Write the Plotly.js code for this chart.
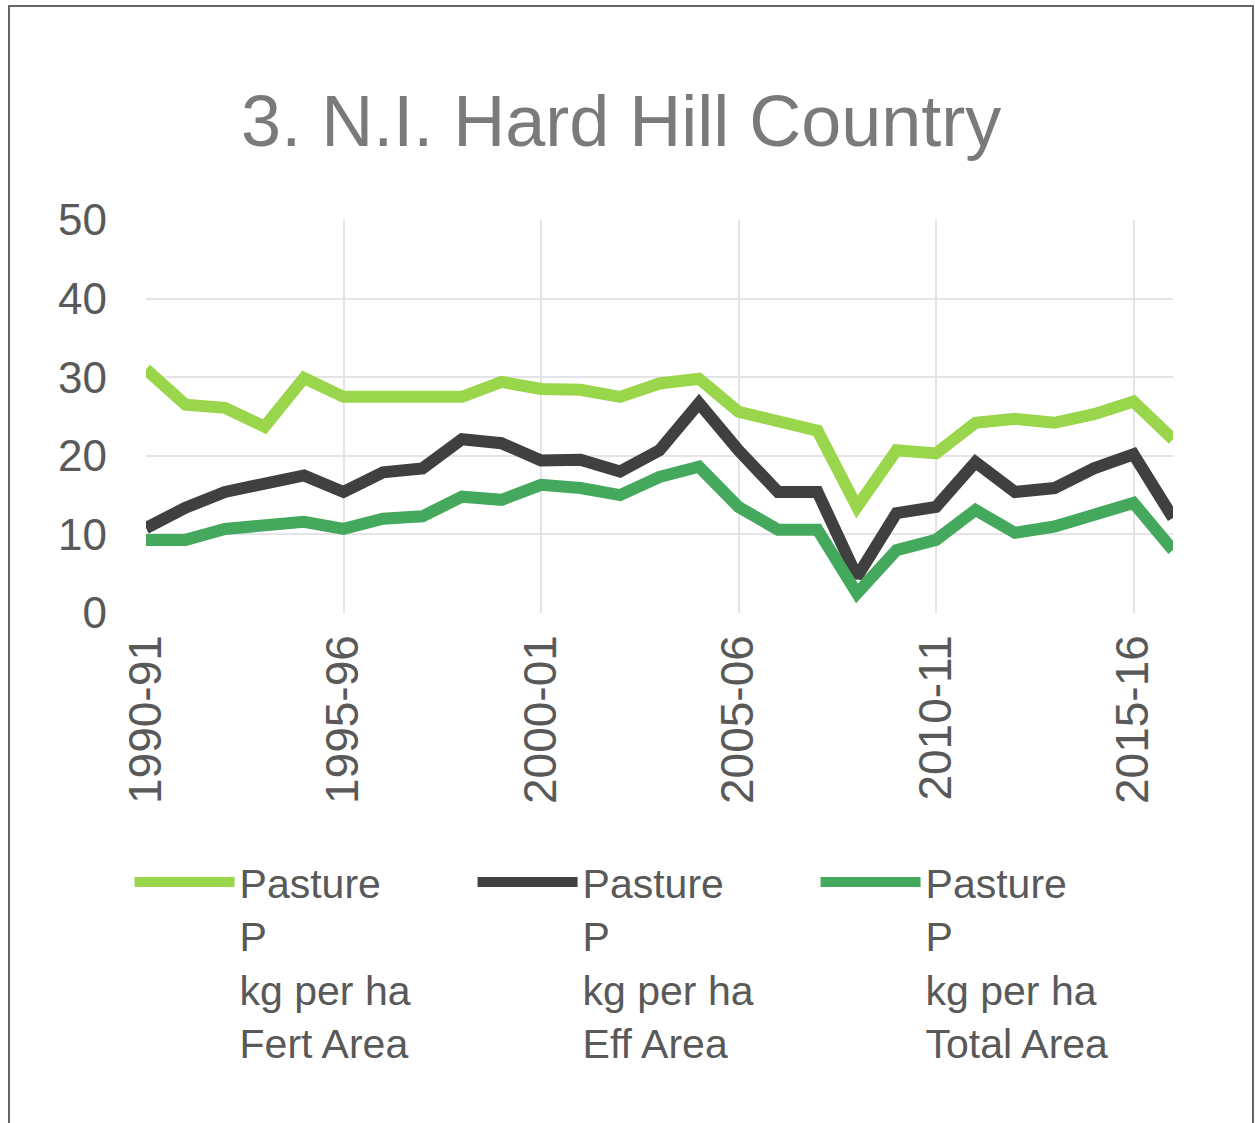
<!DOCTYPE html>
<html>
<head>
<meta charset="utf-8">
<script src="https://cdn.plot.ly/plotly-3.0.1.min.js"></script>
<style>
  body { margin: 0; background: #fff; }
  #chart { width: 1255px; height: 1123px; position: relative; }
  #frame { position: absolute; left: 8px; top: 5px; width: 1242px; height: 1130px; border: 2px solid #666; pointer-events: none; }
</style>
</head>
<body>
<div id="chart"></div>
<div id="frame"></div>
<script>
// years on the category axis
var years = ['1990-91', '1991-92', '1992-93', '1993-94', '1994-95', '1995-96', '1996-97',
  '1997-98', '1998-99', '1999-00', '2000-01', '2001-02', '2002-03', '2003-04', '2004-05',
  '2005-06', '2006-07', '2007-08', '2008-09', '2009-10', '2010-11', '2011-12', '2012-13',
  '2013-14', '2014-15', '2015-16', '2016-17'];
var shownTicks = ['1990-91', '1995-96', '2000-01', '2005-06', '2010-11', '2015-16'];

// P applied, kg per ha
var fertArea = [31.0, 26.5, 26.1, 23.7, 29.9, 27.5, 27.5, 27.5, 27.5, 29.4, 28.5, 28.4, 27.5,
  29.2, 29.8, 25.6, 24.3, 23.2, 13.5, 20.7, 20.3, 24.2, 24.7, 24.2, 25.3, 26.9, 22.1];
var effArea = [10.8, 13.4, 15.4, 16.5, 17.5, 15.4, 17.9, 18.4, 22.1, 21.6, 19.4, 19.5, 18.0,
  20.7, 26.7, 20.7, 15.4, 15.4, 4.6, 12.7, 13.5, 19.2, 15.4, 15.9, 18.4, 20.2, 12.1];
var totalArea = [9.3, 9.3, 10.7, 11.2, 11.6, 10.7, 12.0, 12.3, 14.8, 14.4, 16.3, 15.9, 15.0,
  17.3, 18.6, 13.5, 10.6, 10.6, 2.5, 8.0, 9.3, 13.1, 10.2, 11.0, 12.5, 14.0, 8.0];

var seriesNames = ['Pasture<br>P<br>kg per ha<br>Fert Area',
  'Pasture<br>P<br>kg per ha<br>Eff Area',
  'Pasture<br>P<br>kg per ha<br>Total Area'];
var seriesColors = ['#9ad64c', '#404040', '#45a95d'];
var seriesValues = [fertArea, effArea, totalArea];

var data = seriesValues.map(function(vals, i) {
  return {
    type: 'scatter',
    mode: 'lines',
    x: years,
    y: vals,
    name: seriesNames[i],
    line: { color: seriesColors[i], width: 12, shape: 'linear' },
    hoverinfo: 'x+y'
  };
});

var layout = {
  width: 1255,
  height: 1123,
  paper_bgcolor: '#fff',
  plot_bgcolor: '#fff',
  margin: { l: 146, r: 82, t: 220, b: 510, autoexpand: false },
  font: { family: 'Liberation Sans, Arial, sans-serif', color: '#595959' },
  title: {
    text: '3. N.I. Hard Hill Country',
    font: { size: 72, color: '#7a7a7a' },
    x: 0.495,
    xanchor: 'center',
    y: 0.892,
    yanchor: 'middle'
  },
  xaxis: {
    type: 'category',
    range: [0, 26],
    tickmode: 'array',
    tickvals: shownTicks,
    ticktext: shownTicks,
    tickangle: -90,
    tickfont: { size: 46, color: '#595959' },
    showgrid: true,
    gridcolor: '#e3e3e8',
    gridwidth: 2,
    zeroline: false,
    showline: false,
    ticks: '',
    ticklabelstandoff: 12
  },
  yaxis: {
    range: [0, 50],
    dtick: 10,
    tickfont: { size: 44, color: '#595959' },
    showgrid: true,
    gridcolor: '#e3e3e8',
    gridwidth: 2,
    zeroline: false,
    showline: false,
    ticks: '',
    ticklabelstandoff: 38
  },
  showlegend: true,
  legend: {
    orientation: 'h',
    x: -0.016,
    xanchor: 'left',
    y: -0.6,
    yanchor: 'top',
    font: { size: 41, color: '#595959' },
    itemwidth: 100,
    entrywidth: 228,
    traceorder: 'normal',
    valign: 'top'
  }
};

Plotly.newPlot('chart', data, layout, { displayModeBar: false, staticPlot: true });
</script>
</body>
</html>
